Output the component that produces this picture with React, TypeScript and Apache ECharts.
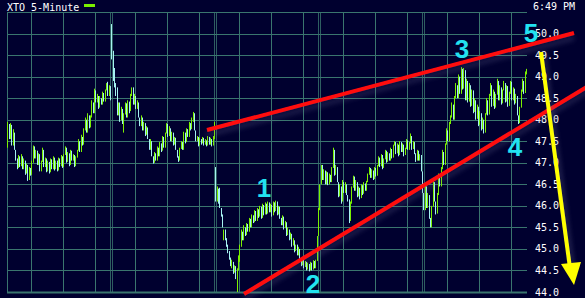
import React, { useEffect, useRef } from "react";
import * as echarts from "echarts";

// Each bar: [open, close] (5-minute bars, the bar spans its open..close range)
const day1: [number, number][] = [
  [47.35,47.95],[47.90,47.55],[47.55,47.92],[47.88,47.40],[47.40,47.78],[47.70,47.30],[47.30,47.05],[47.10,46.85],
  [46.88,47.18],[47.15,46.90],[46.92,47.20],[47.15,46.85],[46.85,47.10],[47.05,46.72],[46.75,46.98],[46.95,46.58],
  [46.60,46.90],[46.88,46.70],[46.72,47.05],[47.00,47.40],[47.38,47.10],[47.10,47.30],[47.28,46.95],[46.95,47.22],
  [47.20,46.80],[46.80,47.05],[47.02,47.35],[47.30,46.90],[46.90,47.12],[47.10,46.78],[46.80,47.05],[47.02,46.75],
  [46.78,47.10],[47.08,46.85],[46.85,47.15],[47.12,46.82],[46.85,47.05],[47.05,46.80],[46.82,47.12],[47.10,46.90],
  [46.92,47.18],[47.15,46.88],[46.90,47.20],[47.18,47.38],[47.35,47.00],[47.02,47.25],[47.22,46.92],[46.95,47.30],
  [47.28,47.05],[47.05,47.20],[47.18,46.90],[46.92,47.15],[47.12,47.30],[47.28,47.55],[47.50,47.25],[47.25,47.65],
  [47.60,47.40],[47.42,47.80],[47.75,48.05],[48.00,47.70],[47.70,48.15],[48.10,47.80],[47.82,48.10],[48.05,48.45],
  [48.40,48.15],[48.15,48.72],[48.68,48.40],[48.40,48.60],[48.55,48.25],[48.28,48.55],[48.50,48.35],[48.35,48.65],
  [48.62,48.42],[48.42,48.70],[48.68,48.85],[48.88,48.55],[48.55,48.80],[48.78,48.45]
];
const day2: [number, number][] = [
  [50.22,49.40],[49.60,48.90],[49.20,48.75],[48.85,48.55],[48.75,48.10],[48.10,48.40],[48.40,47.95],[47.98,48.30],
  [48.25,47.90],[47.70,48.15],[48.12,48.40],[48.38,48.05],[48.05,48.45],[48.42,48.15],[48.20,48.60],[48.55,48.75],
  [48.75,48.35],[48.35,48.60],[48.55,48.25],[48.25,48.45],[48.40,48.05],[48.05,47.85],[47.85,48.10],[48.05,47.75],
  [47.75,47.95],[47.92,47.62],[47.65,47.85],[47.82,47.55],[47.55,47.30],[47.30,47.55],[47.50,47.15],[47.15,46.98],
  [47.00,47.25],[47.22,47.05],[47.05,47.38],[47.35,47.15],[47.15,47.48],[47.45,47.25],[47.28,47.62],[47.60,47.35],
  [47.35,47.70],[47.68,47.92],[47.90,47.60],[47.62,47.85],[47.80,47.50],[47.50,47.72],[47.70,47.40],[47.42,47.60],
  [47.58,47.30],[47.30,47.12],[47.15,47.02],[47.05,47.35],[47.32,47.50],[47.48,47.30],[47.30,47.72],[47.70,47.45],
  [47.48,47.80],[47.78,47.60],[47.60,47.95],[47.92,47.75],[47.78,48.05],[47.95,48.18],[48.15,47.75],[47.75,47.50],
  [47.50,47.62],[47.60,47.38],[47.40,47.58],[47.55,47.42],[47.45,47.60],[47.58,47.40],[47.42,47.55],[47.52,47.38],
  [47.40,47.62],[47.60,47.42],[47.42,47.58],[47.55,47.38],[47.40,47.62],[47.55,47.95]
];
const day3: [number, number][] = [
  [46.90,46.10],[46.10,46.45],[46.40,46.05],[46.42,45.95],[45.95,45.75],[45.80,45.50],[45.20,45.45],[45.45,45.20],
  [45.25,45.05],[45.10,44.90],[44.95,44.75],[44.80,44.60],[44.55,44.75],[44.70,44.42],[44.45,44.62],[44.60,44.30],
  [44.00,44.55],[44.50,44.85],[44.70,45.10],[45.05,45.45],[45.40,45.20],[45.20,45.55],[45.50,45.30],[45.32,45.60],
  [45.58,45.40],[45.40,45.72],[45.70,45.50],[45.50,45.80],[45.78,45.60],[45.62,45.90],[45.88,45.65],[45.65,45.95],
  [45.92,45.72],[45.75,46.00],[45.98,45.70],[45.72,46.05],[46.02,45.78],[45.80,46.08],[46.05,45.80],[45.82,46.10],
  [46.08,45.85],[45.85,46.05],[46.02,45.75],[45.78,46.10],[46.08,45.85],[45.88,46.12],[46.10,45.78],[45.80,46.00],
  [45.98,45.70],[45.72,45.55],[45.55,45.78],[45.75,45.45],[45.48,45.65],[45.62,45.30],[45.32,45.50],[45.45,45.20],
  [45.22,45.38],[45.35,45.05],[45.08,45.25],[45.20,44.92],[44.95,45.10],[45.10,44.85],[44.85,45.05],[45.00,44.75],
  [44.78,44.60],[44.62,44.80],[44.75,44.55],[44.58,44.72],[44.70,44.50],[44.52,44.68],[44.65,44.48],[44.50,44.70],
  [44.68,44.50],[44.52,44.74],[44.72,44.55],[44.55,44.75],[44.72,45.30],[45.30,45.95]
];
const day4: [number, number][] = [
  [45.90,46.50],[46.50,46.95],[46.95,46.60],[46.60,46.85],[46.82,46.50],[46.50,46.80],[46.78,46.48],[46.50,46.75],
  [46.72,46.55],[46.55,46.90],[46.88,47.35],[47.30,46.70],[46.72,46.95],[46.90,46.55],[46.55,46.20],[46.22,46.50],
  [46.45,46.05],[46.10,46.60],[46.55,46.30],[46.30,46.55],[46.50,46.25],[46.25,46.10],[46.15,45.60],[45.65,46.10],
  [46.05,46.45],[46.42,46.70],[46.68,46.35],[46.35,46.60],[46.55,46.20],[46.22,46.45],[46.42,46.15],[46.18,46.50],
  [46.48,46.25],[46.28,46.55],[46.52,46.35],[46.35,46.58],[46.55,46.75],[46.72,46.90],[46.88,46.65],[46.65,46.85],
  [46.82,46.60],[46.62,46.90],[46.88,46.68],[46.70,46.95],[46.92,47.15],[47.12,46.90],[46.92,47.20],[47.18,46.85],
  [46.88,47.10],[47.08,47.30],[47.28,47.00],[47.02,47.25],[47.22,47.05],[47.05,47.35],[47.32,47.10],[47.12,47.42],
  [47.40,47.50],[47.48,47.20],[47.22,47.45],[47.42,47.15],[47.18,47.50],[47.48,47.25],[47.25,47.45],[47.42,47.15],
  [47.18,47.35],[47.32,47.55],[47.52,47.30],[47.30,47.48],[47.45,47.68],[47.62,47.30],[47.32,47.50],[47.48,47.20],
  [47.22,47.02],[47.05,47.30],[47.28,47.05],[47.05,47.20],[47.18,46.80],[46.80,46.30]
];
const day5: [number, number][] = [
  [46.30,45.90],[45.90,46.50],[46.45,45.95],[45.95,46.30],[46.25,45.70],[45.72,45.50],[45.50,46.00],[45.98,46.60],
  [46.55,46.10],[46.10,45.80],[45.82,46.30],[46.25,46.75],[46.70,46.45],[46.45,46.90],[46.85,47.30],[47.25,46.95],
  [46.95,47.45],[47.42,47.80],[47.75,47.50],[47.50,47.95],[47.90,48.10],[48.05,48.40],[48.35,48.00],[48.00,48.55],
  [48.50,48.85],[48.80,48.50],[48.50,49.05],[49.00,48.60],[48.60,49.22],[49.18,48.70],[48.72,49.20],[49.15,48.45],
  [48.45,48.95],[48.90,48.40],[48.42,48.85],[48.80,48.30],[48.32,48.70],[48.68,48.15],[48.18,48.50],[48.45,48.00],
  [48.02,48.35],[48.30,47.85],[47.88,48.20],[48.15,47.75],[47.78,48.05],[48.00,47.68],[47.70,48.15],[48.12,48.50],
  [48.45,48.10],[48.12,48.60],[48.55,48.85],[48.80,48.30],[48.32,48.70],[48.65,48.25],[48.28,48.60],[48.58,48.95],
  [48.90,48.45],[48.45,48.80],[48.75,48.35],[48.38,48.70],[48.68,48.90],[48.85,48.40],[48.42,48.80],[48.78,48.30],
  [48.32,48.65],[48.60,48.90],[48.88,48.45],[48.45,48.75],[48.72,48.35],[48.38,48.60],[48.55,48.10],[48.10,47.90],
  [47.92,48.30],[48.28,48.70],[48.65,48.95],[48.90,48.60],[48.62,49.12],[49.05,49.18]
];

const dayNames = ["Mon", "Tue", "Wed", "Thu", "Fri"];
const sessionStart = "09:30";
const hourLineBars = [18, 42, 66]; // 11:00, 13:00, 15:00
const barsPerDay = 78;
const yTicks = { min: 44, max: 50.5, step: 0.5 };
const titleText = "XTO 5-Minute";
const timeStamp = "6:49 PM";
const waveLabels = ["1", "2", "3", "4", "5"];

const UP = "#7af000";
const DOWN = "#a6f2f2";
const GRID = "#3a756e";
const BG = "#00002f";
const CYAN = "#22e2f0";

export default function App() {
  const ref = useRef<HTMLDivElement>(null);
  useEffect(() => {
    if (!ref.current) return;
    document.body.style.margin = "0";
    const chart = echarts.init(ref.current, undefined, { renderer: "svg" });
    const days = [day1, day2, day3, day4, day5];
    const categories: string[] = [];
    const ohlc: number[][] = [];
    const [sh, sm] = sessionStart.split(":").map(Number);
    days.forEach((d, di) => {
      d.forEach((b, j) => {
        const t = sh * 60 + sm + j * 5;
        categories.push(`${dayNames[di]} ${String(Math.floor(t / 60)).padStart(2, "0")}:${String(t % 60).padStart(2, "0")}`);
        ohlc.push([ohlc.length, b[0], b[1], Math.min(b[0], b[1]), Math.max(b[0], b[1])]);
      });
    });
    // vertical grid: [bar index, double line?]
    const vLines: number[][] = [[0, 0]];
    days.forEach((_, di) => {
      if (di > 0) vLines.push([di * barsPerDay, 1]);
      hourLineBars.forEach((h) => vLines.push([di * barsPerDay + h, 0]));
    });
    const hLines: number[][] = [];
    for (let v = yTicks.min; v <= yTicks.max + 1e-9; v += yTicks.step) hLines.push([0, +v.toFixed(2)]);

    const option: any = {
      animation: false,
      backgroundColor: BG,
      grid: { left: 7, right: 58, top: 12, bottom: 6 },
      xAxis: {
        type: "category",
        data: categories,
        boundaryGap: true,
        axisLabel: { show: false },
        axisTick: { show: false },
        axisLine: { show: false },
        splitLine: { show: false },
      },
      yAxis: {
        type: "value",
        position: "right",
        min: yTicks.min,
        max: yTicks.max,
        interval: yTicks.step,
        axisLine: { show: false },
        axisTick: { show: false },
        axisLabel: {
          color: "#ffffff",
          fontFamily: "DejaVu Sans Mono",
          fontSize: 10,
          margin: 8,
          formatter: (v: number) => (v >= yTicks.max ? "" : v.toFixed(1)),
        },
        splitLine: { show: false },
      },
      series: [
        {
          type: "custom",
          silent: true,
          data: hLines,
          z: 1,
          itemStyle: { color: GRID },
          renderItem: (params: any, api: any) => {
            const cs = params.coordSys;
            const v = api.value(1);
            const y = Math.round(api.coord([0, v])[1]) + 0.5;
            return {
              type: "line",
              shape: { x1: cs.x, y1: y, x2: cs.x + cs.width, y2: y },
              style: { stroke: GRID, lineWidth: v === yTicks.min ? 2 : 1, fill: null },
            };
          },
        },
        {
          type: "custom",
          silent: true,
          data: vLines,
          z: 1,
          itemStyle: { color: GRID },
          renderItem: (params: any, api: any) => {
            const cs = params.coordSys;
            const bw = api.size([1, 0])[0];
            const x = Math.round(api.coord([api.value(0), yTicks.min])[0] - bw / 2);
            const offs = api.value(1) ? [-1, 1] : [0];
            return {
              type: "group",
              children: offs.map((o) => ({
                type: "line",
                shape: { x1: x + o + 0.5, y1: cs.y, x2: x + o + 0.5, y2: cs.y + cs.height },
                style: { stroke: GRID, lineWidth: 1, fill: null, opacity: api.value(1) ? 0.8 : 1 },
              })),
            };
          },
        },
        {
          type: "custom",
          data: ohlc,
          z: 3,
          encode: { x: 0, y: [3, 4] },
          itemStyle: { color: UP },
          renderItem: (params: any, api: any) => {
            const i = api.value(0);
            const lo = api.coord([i, api.value(3)]);
            const hi = api.coord([i, api.value(4)]);
            const x = Math.floor(lo[0]) + 0.5;
            const up = api.value(2) >= api.value(1);
            return {
              type: "line",
              shape: { x1: x, y1: lo[1], x2: x, y2: Math.min(hi[1], lo[1] - 1) },
              style: { stroke: up ? UP : DOWN, lineWidth: 1, fill: null },
            };
          },
        },
      ],
      graphic: [
        { type: "text", x: 7, y: 2, style: { text: titleText, fill: "#ffffff", font: "10px DejaVu Sans Mono", textVerticalAlign: "top" } },
        { type: "rect", shape: { x: 84, y: 4, width: 11, height: 3 }, style: { fill: UP } },
        { type: "text", x: 533, y: 1, style: { text: timeStamp, fill: "#ffffff", font: "10px DejaVu Sans Mono", textVerticalAlign: "top" } },
        {
          type: "line", z: 10,
          shape: { x1: 207, y1: 130, x2: 574, y2: 33 },
          style: { stroke: "#ff0a0a", lineWidth: 4, shadowColor: "rgba(110,110,150,0.3)", shadowBlur: 5, shadowOffsetY: 5 },
        },
        {
          type: "line", z: 10,
          shape: { x1: 244, y1: 294, x2: 590, y2: 85 },
          style: { stroke: "#ff0a0a", lineWidth: 4, shadowColor: "rgba(110,110,150,0.3)", shadowBlur: 5, shadowOffsetY: 5 },
        },
        {
          type: "line", z: 10,
          shape: { x1: 541, y1: 52, x2: 570, y2: 268 },
          style: { stroke: "#ffff00", lineWidth: 4, shadowColor: "rgba(110,110,150,0.3)", shadowBlur: 4, shadowOffsetX: 3 },
        },
        {
          type: "polygon", z: 10,
          shape: { points: [[561, 264], [581, 262], [574, 285]] },
          style: { fill: "#ffff00" },
        },
        ...[[264, 188], [313, 284], [462, 49], [515, 147], [531, 33]].map((p, i) => ({
          type: "text", z: 11,
          x: p[0], y: p[1],
          style: {
            text: waveLabels[i], fill: CYAN,
            font: "bold 26px Liberation Sans",
            textAlign: "center", textVerticalAlign: "middle",
          },
        })),
      ],
    };
    chart.setOption(option);
    return () => chart.dispose();
  }, []);
  return <div ref={ref} style={{ position: "fixed", left: 0, top: 0, width: 585, height: 298 }} />;
}
